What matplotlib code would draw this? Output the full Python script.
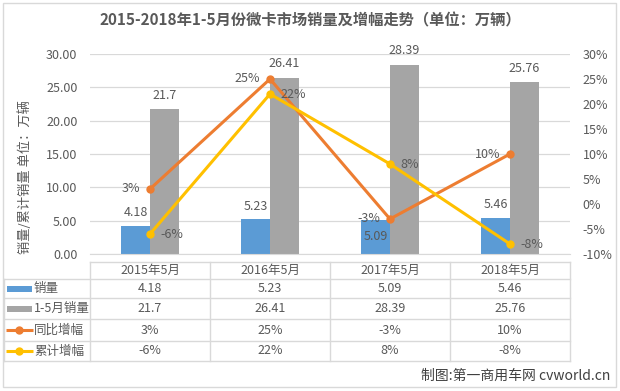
import numpy as np
import matplotlib
matplotlib.use("Agg")
import matplotlib.pyplot as plt
import matplotlib.transforms as mtransforms
from matplotlib.lines import Line2D
from matplotlib.patches import Rectangle

plt.rcParams['font.family'] = ['Noto Sans CJK SC', 'DejaVu Sans']

# data
categories = ['2015年5月', '2016年5月', '2017年5月', '2018年5月']
sales_may = [4.18, 5.23, 5.09, 5.46]
sales_jan_may = [21.7, 26.41, 28.39, 25.76]
yoy_growth = [3, 25, -3, 10]
cum_growth = [-6, 22, 8, -8]

sales_may_txt = ['4.18', '5.23', '5.09', '5.46']
sales_jan_may_txt = ['21.7', '26.41', '28.39', '25.76']

series_names = ['销量', '1-5月销量', '同比增幅', '累计增幅']

BLUE = '#5B9BD5'
GRAY = '#A5A5A5'
ORANGE = '#ED7D31'
YELLOW = '#FFC000'
TXT = '#595959'
GRID = '#D9D9D9'

W, H = 620, 391


def fx(x):
    return x / W


def fy(y):
    return 1 - y / H


fig = plt.figure(figsize=(W / 100, H / 100), dpi=100)
fig.patch.set_facecolor('white')

# chart border
fig.add_artist(Rectangle((fx(3), fy(387)), fx(613), (384) / H, transform=fig.transFigure,
                         fill=False, edgecolor=GRID, lw=1.0))

ax = fig.add_axes([fx(90), fy(254), 480 / W, 200 / H])
x = np.arange(len(categories))
bw = 0.24

ax.bar(x - bw / 2, sales_may, bw, color=BLUE, zorder=2)
ax.bar(x + bw / 2, sales_jan_may, bw, color=GRAY, zorder=2)

ax.set_xlim(-0.5, 3.5)
ax.set_ylim(0, 30)
ax.set_yticks(np.arange(0, 31, 5))
ax.set_yticklabels([f'{v:.2f}' for v in np.arange(0, 31, 5)])
ax.set_xticks([])
ax.grid(axis='y', color=GRID, lw=0.9, zorder=0)
ax.set_axisbelow(True)
for s in ['top', 'right', 'left']:
    ax.spines[s].set_visible(False)
ax.spines['bottom'].set_color(GRID)
ax.tick_params(axis='y', length=0, pad=9, labelsize=9, labelcolor=TXT)

ax.set_ylabel('销量/累计销量 单位：万辆', fontsize=9.5, color=TXT)
ax.yaxis.set_label_coords((32 - 90) / 480, (254 - 177) / 200)

# bar labels
blue_dy = [14, 13, -16, 13]
for i in range(len(categories)):
    ax.annotate(sales_may_txt[i], (x[i] - bw / 2, sales_may[i]), xytext=(0, blue_dy[i]),
                textcoords='offset pixels', ha='center', va='center', fontsize=9, color=TXT, zorder=5)
    ax.annotate(sales_jan_may_txt[i], (x[i] + bw / 2, sales_jan_may[i]), xytext=(0, 14),
                textcoords='offset pixels', ha='center', va='center', fontsize=9, color=TXT, zorder=5)

ax2 = ax.twinx()
ax2.set_ylim(-10, 30)
ax2.set_yticks(np.arange(-10, 31, 5))
ax2.set_yticklabels([f'{v}%' for v in np.arange(-10, 31, 5)])
for s in ax2.spines.values():
    s.set_visible(False)
ax2.tick_params(axis='y', length=0, pad=9, labelsize=9, labelcolor=TXT)

ax2.plot(x, yoy_growth, color=ORANGE, lw=2.2, marker='o', ms=5, zorder=3)
ax2.plot(x, cum_growth, color=YELLOW, lw=2.2, marker='o', ms=5, zorder=3)

for i in range(len(categories)):
    ax2.annotate(f'{yoy_growth[i]}%', (x[i], yoy_growth[i]), xytext=(-10, 0),
                 textcoords='offset pixels', ha='right', va='center', fontsize=9, color=TXT)
    ax2.annotate(f'{cum_growth[i]}%', (x[i], cum_growth[i]), xytext=(10, 0),
                 textcoords='offset pixels', ha='left', va='center', fontsize=9, color=TXT)

# title
fig.text(0.5, fy(20), '2015-2018年1-5月份微卡市场销量及增幅走势（单位：万辆）',
         ha='center', va='center', fontsize=11, fontweight='bold', color=TXT)

# data table below the axis
tr = mtransforms.blended_transform_factory(ax.transData, fig.transFigure)
tf = fig.transFigure

row_lines = [279, 298, 319, 341, 361]
fig.add_artist(Line2D([-0.5, 3.5], [fy(262), fy(262)], transform=tr, color=GRID, lw=1.0))
for yy in row_lines:
    fig.add_artist(Line2D([fx(4), fx(570)], [fy(yy), fy(yy)], transform=tf, color=GRID, lw=1.0))
for xv in np.arange(-0.5, 4, 1.0):
    fig.add_artist(Line2D([xv, xv], [fy(262), fy(361)], transform=tr, color=GRID, lw=1.0))
fig.add_artist(Line2D([fx(4), fx(4)], [fy(279), fy(361)], transform=tf, color=GRID, lw=1.0))

row_centers = [288.5, 308.5, 330, 351]
for i, c in enumerate(categories):
    fig.text(x[i], fy(270.5), c, transform=tr, ha='center', va='center', fontsize=9, color=TXT)

table_rows = [sales_may_txt, sales_jan_may_txt,
              [f'{v}%' for v in yoy_growth], [f'{v}%' for v in cum_growth]]
for r, vals in enumerate(table_rows):
    for i, v in enumerate(vals):
        fig.text(x[i], fy(row_centers[r]), v, transform=tr, ha='center', va='center',
                 fontsize=9, color=TXT)
    fig.text(fx(34), fy(row_centers[r]), series_names[r], ha='left', va='center',
             fontsize=9, color=TXT)

# legend keys in table
fig.add_artist(Rectangle((fx(7), fy(row_centers[0] + 3)), 25 / W, 6 / H, transform=tf,
                         color=BLUE, lw=0))
fig.add_artist(Rectangle((fx(7), fy(row_centers[1] + 3)), 25 / W, 6 / H, transform=tf,
                         color=GRAY, lw=0))
for r, col in [(2, ORANGE), (3, YELLOW)]:
    fig.add_artist(Line2D([fx(6), fx(33)], [fy(row_centers[r]), fy(row_centers[r])],
                          transform=tf, color=col, lw=2.2, solid_capstyle='butt'))
    fig.add_artist(Line2D([fx(19.5)], [fy(row_centers[r])], transform=tf, color=col,
                          marker='o', ms=5, lw=0))

# watermark
fig.text(fx(610), fy(376), '制图:第一商用车网 cvworld.cn', ha='right', va='center',
         fontsize=10, color='#404040')

fig.savefig('out.png', dpi=100, facecolor='white')
